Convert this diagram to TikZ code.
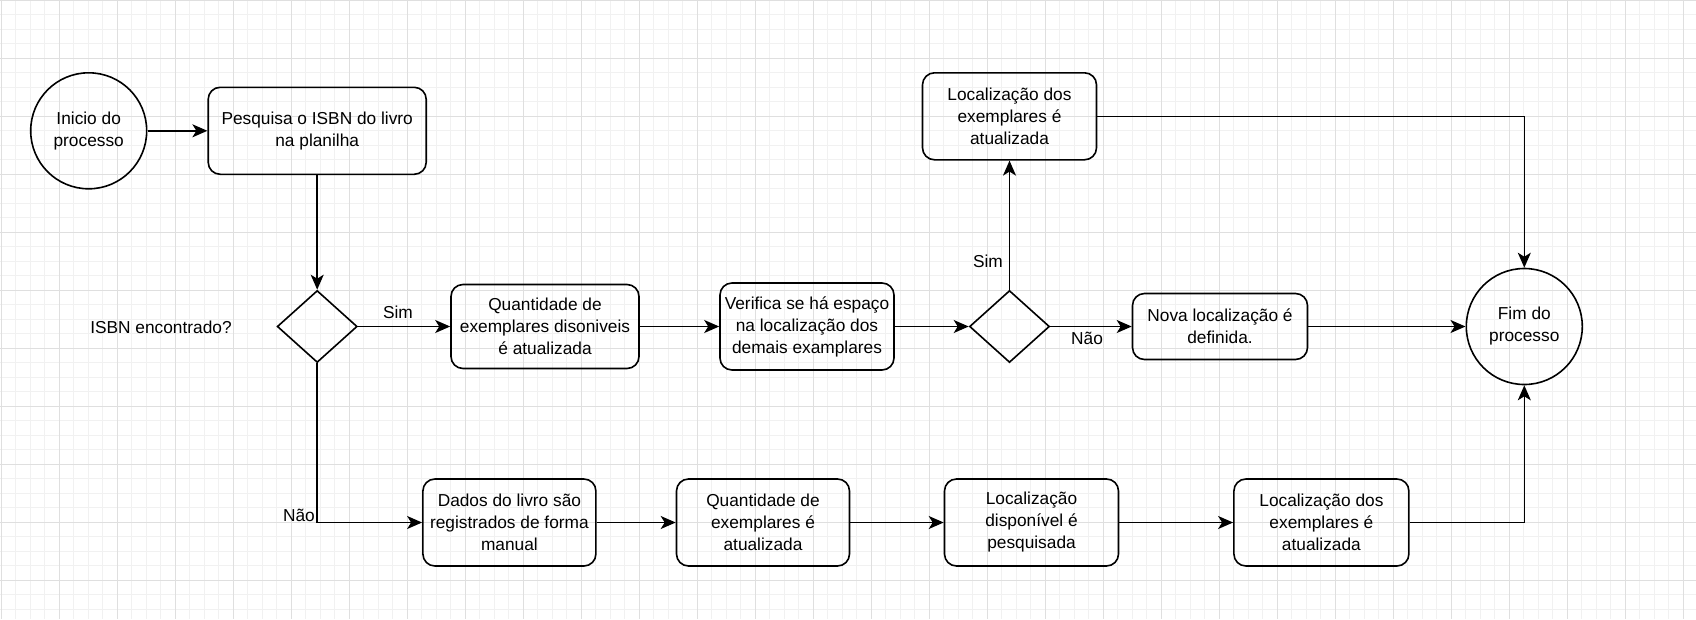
\documentclass[tikz,border=0pt]{standalone}
\usepackage{fontspec}
\setmainfont{Liberation Sans}
\usetikzlibrary{shapes.geometric,arrows.meta}
\definecolor{gridminor}{HTML}{F1F1F1}
\definecolor{gridmajor}{HTML}{DFDFDF}
\begin{document}
\begin{tikzpicture}[x=1pt,y=-1pt,
  every node/.style={font=\fontsize{17.3}{22}\selectfont},
  proc/.style={draw,rounded corners=12pt,line width=1.6pt,align=center,inner sep=0pt},
  term/.style={draw,circle,line width=1.6pt,align=center,minimum size=116pt,inner sep=0pt},
  dec/.style={draw,diamond,line width=1.6pt,minimum width=80pt,minimum height=72pt,inner sep=0pt},
  conn/.style={line width=1.6pt,-{Stealth[length=15pt,width=13pt,inset=4pt]}},
  lbl/.style={inner sep=0pt}]
\useasboundingbox (0,0) rectangle (1696,619);
\fill[white] (0,0) rectangle (1696,619);
% grid
\foreach \i in {0,...,117} {\draw[gridminor,line width=0.9pt] ({1.3+14.5*\i},0) -- ({1.3+14.5*\i},619);}
\foreach \j in {0,...,42} {\draw[gridminor,line width=0.9pt] (0,{0.3+14.5*\j}) -- (1696,{0.3+14.5*\j});}
\foreach \i in {0,...,29} {\draw[gridmajor,line width=1pt] ({1.3+58*\i},0) -- ({1.3+58*\i},619);}
\foreach \j in {0,...,10} {\draw[gridmajor,line width=1pt] (0,{0.3+58*\j}) -- (1696,{0.3+58*\j});}
% nodes
\node[term] (start) at (88.7,130.8) {Inicio do\\processo};
\node[proc,minimum width=218pt,minimum height=87pt] (pesq) at (317.2,130.8) {Pesquisa o ISBN do livro\\na planilha};
\node[dec] (d1) at (317.2,326.5) {};
\node[lbl] (isbn) at (161,327) {ISBN encontrado?};
\node[proc,minimum width=188pt,minimum height=84pt] (q1) at (545,326.5) {Quantidade de\\exemplares disoniveis\\é atualizada};
\node[proc,minimum width=174pt,minimum height=87pt] (verif) at (807,326.5) {Verifica se há espaço\\na localização dos\\demais examplares};
\node[dec] (d2) at (1009.5,326.5) {};
\node[proc,minimum width=174pt,minimum height=87pt] (loctop) at (1009.5,116.3) {Localização dos\\exemplares é\\atualizada};
\node[proc,minimum width=175pt,minimum height=66pt] (nova) at (1220,326.5) {Nova localização é\\definida.};
\node[term] (fim) at (1524.3,326.5) {Fim do\\processo};
\node[proc,minimum width=173pt,minimum height=87pt] (dados) at (509.4,522.5) {Dados do livro são\\registrados de forma\\manual};
\node[proc,minimum width=173pt,minimum height=87pt] (q2) at (763,522.5) {Quantidade de\\exemplares é\\atualizada};
\node[proc,minimum width=174pt,minimum height=87pt] (locdisp) at (1031.5,522.5) {Localização\\disponível é\\pesquisada};
\node[proc,minimum width=175pt,minimum height=87pt] (locdos) at (1321.4,522.5) {Localização dos\\exemplares é\\atualizada};
% labels
\node[lbl] (sim1) at (398,312) {Sim};
\node[lbl] (nao1) at (299,515) {Não};
\node[lbl] (sim2) at (988,261) {Sim};
\node[lbl] (nao2) at (1087,338) {Não};
% connectors
\draw[conn] (start) -- (pesq);
\draw[conn] (pesq) -- (d1);
\draw[conn] (d1.east) -- (q1.west);
\draw[conn] (d1.south) |- (dados.west);
\draw[conn] (q1.east) -- (verif.west);
\draw[conn] (verif.east) -- (d2.west);
\draw[conn] (d2.north) -- (loctop.south);
\draw[conn] (d2.east) -- (nova.west);
\draw[conn] (nova.east) -- (fim.west);
\draw[conn] (loctop.east) -| (fim.north);
\draw[conn] (dados) -- (q2);
\draw[conn] (q2) -- (locdisp);
\draw[conn] (locdisp) -- (locdos);
\draw[conn] (locdos.east) -| (fim.south);
\end{tikzpicture}
\end{document}
